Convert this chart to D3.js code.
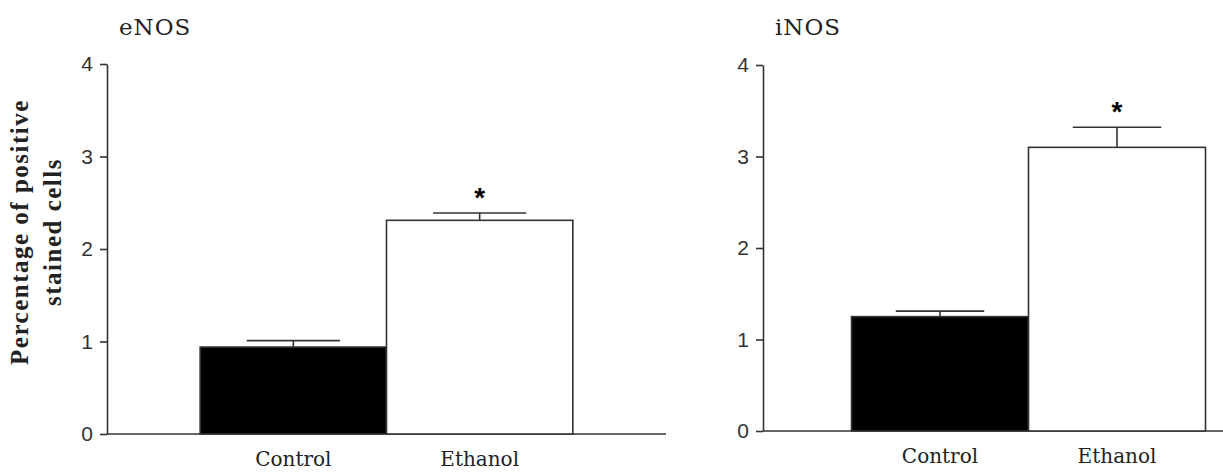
<!DOCTYPE html>
<html lang="en">

<head>
    <meta charset="UTF-8">
    <title>eNOS / iNOS</title>
    <style>
        body {
            margin: 0;
            background-color: white;
        }

        svg {
            display: block;
            background-color: white;
        }

        .tick text {
            font-family: "Liberation Sans", Arial, sans-serif;
            font-size: 21px;
            fill: #333;
        }

        .tick line,
        .domain {
            stroke: #333;
            stroke-width: 1.6;
        }
    </style>
</head>

<body>
    <script src="https://d3js.org/d3.v7.min.js"></script>
    <script>
        {
            // values
            let categories = ['Control', 'Ethanol'];
            let enosMean = [0.94, 2.31];
            let enosSem = [0.07, 0.08];
            let inosMean = [1.25, 3.10];
            let inosSem = [0.06, 0.22];
            let significant = [false, true];
            let yTicks = [0, 1, 2, 3, 4];
            let fills = ['black', 'white'];

            let svg = d3.select('body')
                .append('svg')
                .attr('width', 1223)
                .attr('height', 472);

            let panels = [
                { title: 'eNOS', mean: enosMean, sem: enosSem, left: 107, width: 559, top: 64, bottom: 434 },
                { title: 'iNOS', mean: inosMean, sem: inosSem, left: 763, width: 531, top: 65, bottom: 431 }
            ];

            function drawPanel(p) {
                let g = svg.append('g');

                let x = d3.scaleBand()
                    .domain(categories)
                    .range([p.left, p.left + p.width])
                    .paddingInner(0)
                    .paddingOuter(0.5);

                let y = d3.scaleLinear()
                    .domain([0, 4])
                    .range([p.bottom, p.top]);

                // y axis
                g.append('g')
                    .attr('transform', `translate(${p.left},0)`)
                    .call(d3.axisLeft(y)
                        .tickValues(yTicks)
                        .tickFormat(d3.format('d'))
                        .tickSize(7)
                        .tickSizeOuter(0)
                        .tickPadding(7));

                // x axis baseline
                g.append('line')
                    .attr('x1', p.left)
                    .attr('x2', p.left + p.width)
                    .attr('y1', y(0))
                    .attr('y2', y(0))
                    .attr('stroke', '#333')
                    .attr('stroke-width', 1.6);

                let rows = categories.map((c, i) => ({ c: c, m: p.mean[i], s: p.sem[i], fill: fills[i], star: significant[i] }));

                // error bars (upper half only)
                let err = g.selectAll('.err')
                    .data(rows)
                    .enter()
                    .append('g')
                    .attr('class', 'err')
                    .attr('stroke', '#333')
                    .attr('stroke-width', 1.6);

                err.append('line')
                    .attr('x1', d => x(d.c) + x.bandwidth() / 2)
                    .attr('x2', d => x(d.c) + x.bandwidth() / 2)
                    .attr('y1', d => y(d.m))
                    .attr('y2', d => y(d.m + d.s));

                err.append('line')
                    .attr('x1', d => x(d.c) + x.bandwidth() / 4)
                    .attr('x2', d => x(d.c) + x.bandwidth() * 3 / 4)
                    .attr('y1', d => y(d.m + d.s))
                    .attr('y2', d => y(d.m + d.s));

                // bars
                g.selectAll('.bar')
                    .data(rows)
                    .enter()
                    .append('rect')
                    .attr('class', 'bar')
                    .attr('x', d => x(d.c))
                    .attr('y', d => y(d.m))
                    .attr('width', x.bandwidth())
                    .attr('height', d => y(0) - y(d.m))
                    .attr('fill', d => d.fill)
                    .attr('stroke', '#333')
                    .attr('stroke-width', 1.6);

                // significance stars
                g.selectAll('.star')
                    .data(rows.filter(d => d.star))
                    .enter()
                    .append('text')
                    .attr('class', 'star')
                    .attr('x', d => x(d.c) + x.bandwidth() / 2)
                    .attr('y', d => y(d.m + d.s) - 6)
                    .attr('text-anchor', 'middle')
                    .style('font-family', '"Liberation Sans", Arial, sans-serif')
                    .style('font-weight', 'bold')
                    .style('font-size', '28px')
                    .text('*');

                // category labels
                g.selectAll('.cat')
                    .data(categories)
                    .enter()
                    .append('text')
                    .attr('class', 'cat')
                    .attr('x', d => x(d) + x.bandwidth() / 2)
                    .attr('y', y(0) + 32)
                    .attr('text-anchor', 'middle')
                    .style('font-family', '"DejaVu Serif", serif')
                    .style('font-size', '20px')
                    .attr('fill', '#222')
                    .text(d => d);

                // panel title
                g.append('text')
                    .attr('x', p.left + 12)
                    .attr('y', 35)
                    .style('font-family', '"DejaVu Serif", serif')
                    .style('font-size', '23px')
                    .style('letter-spacing', '1px')
                    .attr('fill', '#222')
                    .text(p.title);
            }

            panels.forEach(drawPanel);

            // y axis title (left panel only)
            let ylab = svg.append('text')
                .attr('transform', 'translate(0,232) rotate(-90)')
                .attr('text-anchor', 'middle')
                .style('font-family', '"Liberation Serif", "Times New Roman", serif')
                .style('font-weight', 'bold')
                .style('font-size', '25px')
                .style('letter-spacing', '1.5px')
                .attr('fill', '#222');

            ylab.append('tspan').attr('x', 0).attr('y', 28).text('Percentage of positive');
            ylab.append('tspan').attr('x', 0).attr('y', 61).text('stained cells');
        }
    </script>
</body>

</html>
